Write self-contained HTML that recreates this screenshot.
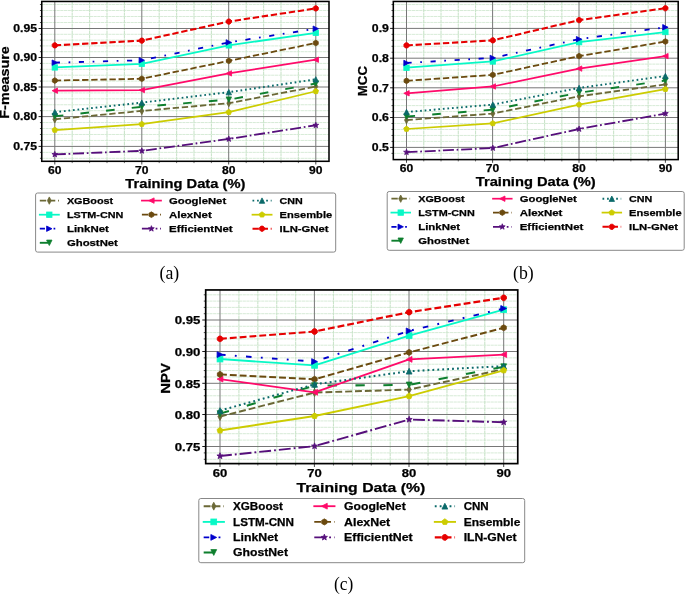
<!DOCTYPE html>
<html><head><meta charset="utf-8"><style>
html,body{margin:0;padding:0;background:#fff;}
svg{display:block;will-change:transform;}
svg text{font-family:"Liberation Sans",sans-serif;font-weight:bold;}
</style></head><body>
<svg width="685" height="594" viewBox="0 0 685 594">
<rect width="685" height="594" fill="#fff"/>
<rect x="41.75" y="1.45" width="287.25" height="159.85000000000002" fill="#fff"/>
<line x1="41.75" x2="329.0" y1="22.50" y2="22.50" stroke="#cae4ca" stroke-width="0.75" stroke-dasharray="3.2,0.5"/>
<line x1="41.75" x2="329.0" y1="16.50" y2="16.50" stroke="#cae4ca" stroke-width="0.75" stroke-dasharray="3.2,0.5"/>
<line x1="41.75" x2="329.0" y1="10.50" y2="10.50" stroke="#cae4ca" stroke-width="0.75" stroke-dasharray="3.2,0.5"/>
<line x1="41.75" x2="329.0" y1="4.50" y2="4.50" stroke="#cae4ca" stroke-width="0.75" stroke-dasharray="3.2,0.5"/>
<line x1="41.75" x2="329.0" y1="34.30" y2="34.30" stroke="#cae4ca" stroke-width="0.75" stroke-dasharray="3.2,0.5"/>
<line x1="41.75" x2="329.0" y1="40.10" y2="40.10" stroke="#cae4ca" stroke-width="0.75" stroke-dasharray="3.2,0.5"/>
<line x1="41.75" x2="329.0" y1="45.90" y2="45.90" stroke="#cae4ca" stroke-width="0.75" stroke-dasharray="3.2,0.5"/>
<line x1="41.75" x2="329.0" y1="51.70" y2="51.70" stroke="#cae4ca" stroke-width="0.75" stroke-dasharray="3.2,0.5"/>
<line x1="41.75" x2="329.0" y1="63.40" y2="63.40" stroke="#cae4ca" stroke-width="0.75" stroke-dasharray="3.2,0.5"/>
<line x1="41.75" x2="329.0" y1="69.30" y2="69.30" stroke="#cae4ca" stroke-width="0.75" stroke-dasharray="3.2,0.5"/>
<line x1="41.75" x2="329.0" y1="75.20" y2="75.20" stroke="#cae4ca" stroke-width="0.75" stroke-dasharray="3.2,0.5"/>
<line x1="41.75" x2="329.0" y1="81.10" y2="81.10" stroke="#cae4ca" stroke-width="0.75" stroke-dasharray="3.2,0.5"/>
<line x1="41.75" x2="329.0" y1="92.92" y2="92.92" stroke="#cae4ca" stroke-width="0.75" stroke-dasharray="3.2,0.5"/>
<line x1="41.75" x2="329.0" y1="98.84" y2="98.84" stroke="#cae4ca" stroke-width="0.75" stroke-dasharray="3.2,0.5"/>
<line x1="41.75" x2="329.0" y1="104.76" y2="104.76" stroke="#cae4ca" stroke-width="0.75" stroke-dasharray="3.2,0.5"/>
<line x1="41.75" x2="329.0" y1="110.68" y2="110.68" stroke="#cae4ca" stroke-width="0.75" stroke-dasharray="3.2,0.5"/>
<line x1="41.75" x2="329.0" y1="122.56" y2="122.56" stroke="#cae4ca" stroke-width="0.75" stroke-dasharray="3.2,0.5"/>
<line x1="41.75" x2="329.0" y1="128.52" y2="128.52" stroke="#cae4ca" stroke-width="0.75" stroke-dasharray="3.2,0.5"/>
<line x1="41.75" x2="329.0" y1="134.48" y2="134.48" stroke="#cae4ca" stroke-width="0.75" stroke-dasharray="3.2,0.5"/>
<line x1="41.75" x2="329.0" y1="140.44" y2="140.44" stroke="#cae4ca" stroke-width="0.75" stroke-dasharray="3.2,0.5"/>
<line x1="41.75" x2="329.0" y1="152.36" y2="152.36" stroke="#cae4ca" stroke-width="0.75" stroke-dasharray="3.2,0.5"/>
<line x1="41.75" x2="329.0" y1="158.32" y2="158.32" stroke="#cae4ca" stroke-width="0.75" stroke-dasharray="3.2,0.5"/>
<line x1="72.20" x2="72.20" y1="1.45" y2="161.3" stroke="#cae4ca" stroke-width="1.1" stroke-dasharray="3.2,0.5"/>
<line x1="89.60" x2="89.60" y1="1.45" y2="161.3" stroke="#cae4ca" stroke-width="1.1" stroke-dasharray="3.2,0.5"/>
<line x1="107.00" x2="107.00" y1="1.45" y2="161.3" stroke="#cae4ca" stroke-width="1.1" stroke-dasharray="3.2,0.5"/>
<line x1="124.40" x2="124.40" y1="1.45" y2="161.3" stroke="#cae4ca" stroke-width="1.1" stroke-dasharray="3.2,0.5"/>
<line x1="159.20" x2="159.20" y1="1.45" y2="161.3" stroke="#cae4ca" stroke-width="1.1" stroke-dasharray="3.2,0.5"/>
<line x1="176.60" x2="176.60" y1="1.45" y2="161.3" stroke="#cae4ca" stroke-width="1.1" stroke-dasharray="3.2,0.5"/>
<line x1="194.00" x2="194.00" y1="1.45" y2="161.3" stroke="#cae4ca" stroke-width="1.1" stroke-dasharray="3.2,0.5"/>
<line x1="211.40" x2="211.40" y1="1.45" y2="161.3" stroke="#cae4ca" stroke-width="1.1" stroke-dasharray="3.2,0.5"/>
<line x1="246.20" x2="246.20" y1="1.45" y2="161.3" stroke="#cae4ca" stroke-width="1.1" stroke-dasharray="3.2,0.5"/>
<line x1="263.60" x2="263.60" y1="1.45" y2="161.3" stroke="#cae4ca" stroke-width="1.1" stroke-dasharray="3.2,0.5"/>
<line x1="281.00" x2="281.00" y1="1.45" y2="161.3" stroke="#cae4ca" stroke-width="1.1" stroke-dasharray="3.2,0.5"/>
<line x1="298.40" x2="298.40" y1="1.45" y2="161.3" stroke="#cae4ca" stroke-width="1.1" stroke-dasharray="3.2,0.5"/>
<line x1="41.75" x2="329.0" y1="28.50" y2="28.50" stroke="#777" stroke-width="1.0"/>
<line x1="41.75" x2="329.0" y1="57.50" y2="57.50" stroke="#777" stroke-width="1.0"/>
<line x1="41.75" x2="329.0" y1="87.00" y2="87.00" stroke="#777" stroke-width="1.0"/>
<line x1="41.75" x2="329.0" y1="116.60" y2="116.60" stroke="#777" stroke-width="1.0"/>
<line x1="41.75" x2="329.0" y1="146.40" y2="146.40" stroke="#777" stroke-width="1.0"/>
<line x1="54.80" x2="54.80" y1="1.45" y2="161.3" stroke="#777" stroke-width="1.0"/>
<line x1="141.80" x2="141.80" y1="1.45" y2="161.3" stroke="#777" stroke-width="1.0"/>
<line x1="228.70" x2="228.70" y1="1.45" y2="161.3" stroke="#777" stroke-width="1.0"/>
<line x1="315.80" x2="315.80" y1="1.45" y2="161.3" stroke="#777" stroke-width="1.0"/>
<polyline points="54.80,119.28 141.80,110.94 228.80,103.19 315.80,86.50" fill="none" stroke="#6b6836" stroke-width="1.80" stroke-dasharray="6.36,2.75" stroke-linejoin="round"/>
<polygon points="54.80,115.61 56.74,119.28 54.80,122.96 52.86,119.28" fill="#6b6836" stroke="#6b6836" stroke-width="0.8" stroke-linejoin="miter" stroke-miterlimit="4"/>
<polygon points="141.80,107.27 143.74,110.94 141.80,114.61 139.86,110.94" fill="#6b6836" stroke="#6b6836" stroke-width="0.8" stroke-linejoin="miter" stroke-miterlimit="4"/>
<polygon points="228.80,99.52 230.74,103.19 228.80,106.86 226.86,103.19" fill="#6b6836" stroke="#6b6836" stroke-width="0.8" stroke-linejoin="miter" stroke-miterlimit="4"/>
<polygon points="315.80,82.83 317.74,86.50 315.80,90.18 313.86,86.50" fill="#6b6836" stroke="#6b6836" stroke-width="0.8" stroke-linejoin="miter" stroke-miterlimit="4"/>
<polyline points="54.80,67.43 141.80,63.86 228.80,45.38 315.80,32.86" fill="none" stroke="#08f8c6" stroke-width="1.75" stroke-linejoin="round"/>
<rect x="52.10" y="64.73" width="5.40" height="5.40" fill="#08f8c6" stroke="#08f8c6" stroke-width="0.8"/>
<rect x="139.10" y="61.16" width="5.40" height="5.40" fill="#08f8c6" stroke="#08f8c6" stroke-width="0.8"/>
<rect x="226.10" y="42.68" width="5.40" height="5.40" fill="#08f8c6" stroke="#08f8c6" stroke-width="0.8"/>
<rect x="313.10" y="30.16" width="5.40" height="5.40" fill="#08f8c6" stroke="#08f8c6" stroke-width="0.8"/>
<polyline points="54.80,62.66 141.80,60.28 228.80,42.40 315.80,28.69" fill="none" stroke="#0000cc" stroke-width="1.80" stroke-dasharray="5.16,8.60,1.72,8.60" stroke-linejoin="round"/>
<polygon points="57.50,62.66 52.10,59.96 52.10,65.36" fill="#0000cc" stroke="#0000cc" stroke-width="0.8" stroke-linejoin="miter" stroke-miterlimit="4"/>
<polygon points="144.50,60.28 139.10,57.58 139.10,62.98" fill="#0000cc" stroke="#0000cc" stroke-width="0.8" stroke-linejoin="miter" stroke-miterlimit="4"/>
<polygon points="231.50,42.40 226.10,39.70 226.10,45.10" fill="#0000cc" stroke="#0000cc" stroke-width="0.8" stroke-linejoin="miter" stroke-miterlimit="4"/>
<polygon points="318.50,28.69 313.10,25.99 313.10,31.39" fill="#0000cc" stroke="#0000cc" stroke-width="0.8" stroke-linejoin="miter" stroke-miterlimit="4"/>
<polyline points="54.80,116.30 141.80,106.77 228.80,99.62 315.80,83.52" fill="none" stroke="#0e7f2e" stroke-width="1.90" stroke-dasharray="8.60,17.20" stroke-linejoin="round"/>
<polygon points="54.80,119.00 52.10,113.60 57.50,113.60" fill="#0e7f2e" stroke="#0e7f2e" stroke-width="0.8" stroke-linejoin="miter" stroke-miterlimit="4"/>
<polygon points="141.80,109.47 139.10,104.07 144.50,104.07" fill="#0e7f2e" stroke="#0e7f2e" stroke-width="0.8" stroke-linejoin="miter" stroke-miterlimit="4"/>
<polygon points="228.80,102.32 226.10,96.92 231.50,96.92" fill="#0e7f2e" stroke="#0e7f2e" stroke-width="0.8" stroke-linejoin="miter" stroke-miterlimit="4"/>
<polygon points="315.80,86.22 313.10,80.82 318.50,80.82" fill="#0e7f2e" stroke="#0e7f2e" stroke-width="0.8" stroke-linejoin="miter" stroke-miterlimit="4"/>
<polyline points="54.80,90.68 141.80,90.08 228.80,73.39 315.80,59.68" fill="none" stroke="#ff0a6a" stroke-width="1.70" stroke-linejoin="round"/>
<polygon points="52.10,90.68 57.50,87.98 57.50,93.38" fill="#ff0a6a" stroke="#ff0a6a" stroke-width="0.8" stroke-linejoin="miter" stroke-miterlimit="4"/>
<polygon points="139.10,90.08 144.50,87.38 144.50,92.78" fill="#ff0a6a" stroke="#ff0a6a" stroke-width="0.8" stroke-linejoin="miter" stroke-miterlimit="4"/>
<polygon points="226.10,73.39 231.50,70.69 231.50,76.09" fill="#ff0a6a" stroke="#ff0a6a" stroke-width="0.8" stroke-linejoin="miter" stroke-miterlimit="4"/>
<polygon points="313.10,59.68 318.50,56.98 318.50,62.38" fill="#ff0a6a" stroke="#ff0a6a" stroke-width="0.8" stroke-linejoin="miter" stroke-miterlimit="4"/>
<polyline points="54.80,80.54 141.80,78.76 228.80,60.88 315.80,43.00" fill="none" stroke="#6b4a0f" stroke-width="1.80" stroke-dasharray="6.36,2.75" stroke-linejoin="round"/>
<polygon points="54.80,77.71 57.26,79.13 57.26,81.96 54.80,83.38 52.34,81.96 52.34,79.13" fill="#6b4a0f" stroke="#6b4a0f" stroke-width="0.8" stroke-linejoin="miter" stroke-miterlimit="4"/>
<polygon points="141.80,75.92 144.26,77.34 144.26,80.17 141.80,81.59 139.34,80.17 139.34,77.34" fill="#6b4a0f" stroke="#6b4a0f" stroke-width="0.8" stroke-linejoin="miter" stroke-miterlimit="4"/>
<polygon points="228.80,58.04 231.26,59.46 231.26,62.29 228.80,63.71 226.34,62.29 226.34,59.46" fill="#6b4a0f" stroke="#6b4a0f" stroke-width="0.8" stroke-linejoin="miter" stroke-miterlimit="4"/>
<polygon points="315.80,40.16 318.26,41.58 318.26,44.41 315.80,45.83 313.34,44.41 313.34,41.58" fill="#6b4a0f" stroke="#6b4a0f" stroke-width="0.8" stroke-linejoin="miter" stroke-miterlimit="4"/>
<polyline points="54.80,154.45 141.80,150.87 228.80,138.95 315.80,125.24" fill="none" stroke="#560f7b" stroke-width="1.80" stroke-dasharray="11.01,2.75,1.72,2.75" stroke-linejoin="round"/>
<polygon points="54.80,151.42 55.55,153.42 57.68,153.51 56.01,154.84 56.58,156.89 54.80,155.72 53.02,156.89 53.59,154.84 51.92,153.51 54.05,153.42" fill="#560f7b" stroke="#560f7b" stroke-width="0.8" stroke-linejoin="miter" stroke-miterlimit="4"/>
<polygon points="141.80,147.85 142.55,149.85 144.68,149.94 143.01,151.26 143.58,153.32 141.80,152.14 140.02,153.32 140.59,151.26 138.92,149.94 141.05,149.85" fill="#560f7b" stroke="#560f7b" stroke-width="0.8" stroke-linejoin="miter" stroke-miterlimit="4"/>
<polygon points="228.80,135.93 229.55,137.93 231.68,138.02 230.01,139.34 230.58,141.40 228.80,140.22 227.02,141.40 227.59,139.34 225.92,138.02 228.05,137.93" fill="#560f7b" stroke="#560f7b" stroke-width="0.8" stroke-linejoin="miter" stroke-miterlimit="4"/>
<polygon points="315.80,122.22 316.55,124.22 318.68,124.31 317.01,125.64 317.58,127.69 315.80,126.51 314.02,127.69 314.59,125.64 312.92,124.31 315.05,124.22" fill="#560f7b" stroke="#560f7b" stroke-width="0.8" stroke-linejoin="miter" stroke-miterlimit="4"/>
<polyline points="54.80,112.13 141.80,102.60 228.80,92.17 315.80,79.35" fill="none" stroke="#0b6a6a" stroke-width="1.90" stroke-dasharray="1.72,2.84" stroke-linejoin="round"/>
<polygon points="54.80,109.43 52.10,114.83 57.50,114.83" fill="#0b6a6a" stroke="#0b6a6a" stroke-width="0.8" stroke-linejoin="miter" stroke-miterlimit="4"/>
<polygon points="141.80,99.90 139.10,105.30 144.50,105.30" fill="#0b6a6a" stroke="#0b6a6a" stroke-width="0.8" stroke-linejoin="miter" stroke-miterlimit="4"/>
<polygon points="228.80,89.47 226.10,94.87 231.50,94.87" fill="#0b6a6a" stroke="#0b6a6a" stroke-width="0.8" stroke-linejoin="miter" stroke-miterlimit="4"/>
<polygon points="315.80,76.65 313.10,82.05 318.50,82.05" fill="#0b6a6a" stroke="#0b6a6a" stroke-width="0.8" stroke-linejoin="miter" stroke-miterlimit="4"/>
<polyline points="54.80,130.01 141.80,124.05 228.80,112.13 315.80,91.27" fill="none" stroke="#cccc00" stroke-width="1.75" stroke-linejoin="round"/>
<polygon points="54.80,127.10 57.57,129.11 56.51,132.37 53.09,132.37 52.03,129.11" fill="#cccc00" stroke="#cccc00" stroke-width="0.8" stroke-linejoin="miter" stroke-miterlimit="4"/>
<polygon points="141.80,121.14 144.57,123.15 143.51,126.41 140.09,126.41 139.03,123.15" fill="#cccc00" stroke="#cccc00" stroke-width="0.8" stroke-linejoin="miter" stroke-miterlimit="4"/>
<polygon points="228.80,109.22 231.57,111.23 230.51,114.49 227.09,114.49 226.03,111.23" fill="#cccc00" stroke="#cccc00" stroke-width="0.8" stroke-linejoin="miter" stroke-miterlimit="4"/>
<polygon points="315.80,88.36 318.57,90.37 317.51,93.63 314.09,93.63 313.03,90.37" fill="#cccc00" stroke="#cccc00" stroke-width="0.8" stroke-linejoin="miter" stroke-miterlimit="4"/>
<polyline points="54.80,45.38 141.80,40.61 228.80,21.54 315.80,8.43" fill="none" stroke="#e60000" stroke-width="2.05" stroke-dasharray="6.36,2.75" stroke-linejoin="round"/>
<polygon points="57.39,46.45 55.87,47.97 53.73,47.97 52.21,46.45 52.21,44.31 53.73,42.79 55.87,42.79 57.39,44.31" fill="#e60000" stroke="#e60000" stroke-width="0.8" stroke-linejoin="miter" stroke-miterlimit="4"/>
<polygon points="144.39,41.69 142.87,43.21 140.73,43.21 139.21,41.69 139.21,39.54 140.73,38.02 142.87,38.02 144.39,39.54" fill="#e60000" stroke="#e60000" stroke-width="0.8" stroke-linejoin="miter" stroke-miterlimit="4"/>
<polygon points="231.39,22.61 229.87,24.13 227.73,24.13 226.21,22.61 226.21,20.47 227.73,18.95 229.87,18.95 231.39,20.47" fill="#e60000" stroke="#e60000" stroke-width="0.8" stroke-linejoin="miter" stroke-miterlimit="4"/>
<polygon points="318.39,9.50 316.87,11.02 314.73,11.02 313.21,9.50 313.21,7.35 314.73,5.83 316.87,5.83 318.39,7.35" fill="#e60000" stroke="#e60000" stroke-width="0.8" stroke-linejoin="miter" stroke-miterlimit="4"/>
<line x1="38.55" x2="41.75" y1="28.50" y2="28.50" stroke="#000" stroke-width="0.9"/>
<text x="37.10" y="32.00" font-size="10.50" text-anchor="end" textLength="23.81" lengthAdjust="spacingAndGlyphs" fill="#000" stroke="#000" stroke-width="0.25">0.95</text>
<line x1="38.55" x2="41.75" y1="57.50" y2="57.50" stroke="#000" stroke-width="0.9"/>
<text x="37.10" y="61.00" font-size="10.50" text-anchor="end" textLength="23.81" lengthAdjust="spacingAndGlyphs" fill="#000" stroke="#000" stroke-width="0.25">0.90</text>
<line x1="38.55" x2="41.75" y1="87.00" y2="87.00" stroke="#000" stroke-width="0.9"/>
<text x="37.10" y="90.50" font-size="10.50" text-anchor="end" textLength="23.81" lengthAdjust="spacingAndGlyphs" fill="#000" stroke="#000" stroke-width="0.25">0.85</text>
<line x1="38.55" x2="41.75" y1="116.60" y2="116.60" stroke="#000" stroke-width="0.9"/>
<text x="37.10" y="120.10" font-size="10.50" text-anchor="end" textLength="23.81" lengthAdjust="spacingAndGlyphs" fill="#000" stroke="#000" stroke-width="0.25">0.80</text>
<line x1="38.55" x2="41.75" y1="146.40" y2="146.40" stroke="#000" stroke-width="0.9"/>
<text x="37.10" y="149.90" font-size="10.50" text-anchor="end" textLength="23.81" lengthAdjust="spacingAndGlyphs" fill="#000" stroke="#000" stroke-width="0.25">0.75</text>
<line x1="39.95" x2="41.75" y1="22.50" y2="22.50" stroke="#000" stroke-width="0.7"/>
<line x1="39.95" x2="41.75" y1="16.50" y2="16.50" stroke="#000" stroke-width="0.7"/>
<line x1="39.95" x2="41.75" y1="10.50" y2="10.50" stroke="#000" stroke-width="0.7"/>
<line x1="39.95" x2="41.75" y1="4.50" y2="4.50" stroke="#000" stroke-width="0.7"/>
<line x1="39.95" x2="41.75" y1="34.30" y2="34.30" stroke="#000" stroke-width="0.7"/>
<line x1="39.95" x2="41.75" y1="40.10" y2="40.10" stroke="#000" stroke-width="0.7"/>
<line x1="39.95" x2="41.75" y1="45.90" y2="45.90" stroke="#000" stroke-width="0.7"/>
<line x1="39.95" x2="41.75" y1="51.70" y2="51.70" stroke="#000" stroke-width="0.7"/>
<line x1="39.95" x2="41.75" y1="63.40" y2="63.40" stroke="#000" stroke-width="0.7"/>
<line x1="39.95" x2="41.75" y1="69.30" y2="69.30" stroke="#000" stroke-width="0.7"/>
<line x1="39.95" x2="41.75" y1="75.20" y2="75.20" stroke="#000" stroke-width="0.7"/>
<line x1="39.95" x2="41.75" y1="81.10" y2="81.10" stroke="#000" stroke-width="0.7"/>
<line x1="39.95" x2="41.75" y1="92.92" y2="92.92" stroke="#000" stroke-width="0.7"/>
<line x1="39.95" x2="41.75" y1="98.84" y2="98.84" stroke="#000" stroke-width="0.7"/>
<line x1="39.95" x2="41.75" y1="104.76" y2="104.76" stroke="#000" stroke-width="0.7"/>
<line x1="39.95" x2="41.75" y1="110.68" y2="110.68" stroke="#000" stroke-width="0.7"/>
<line x1="39.95" x2="41.75" y1="122.56" y2="122.56" stroke="#000" stroke-width="0.7"/>
<line x1="39.95" x2="41.75" y1="128.52" y2="128.52" stroke="#000" stroke-width="0.7"/>
<line x1="39.95" x2="41.75" y1="134.48" y2="134.48" stroke="#000" stroke-width="0.7"/>
<line x1="39.95" x2="41.75" y1="140.44" y2="140.44" stroke="#000" stroke-width="0.7"/>
<line x1="39.95" x2="41.75" y1="152.36" y2="152.36" stroke="#000" stroke-width="0.7"/>
<line x1="39.95" x2="41.75" y1="158.32" y2="158.32" stroke="#000" stroke-width="0.7"/>
<line x1="54.80" x2="54.80" y1="161.3" y2="164.50" stroke="#333" stroke-width="0.9"/>
<text x="54.80" y="174.10" font-size="10.50" text-anchor="middle" textLength="13.44" lengthAdjust="spacingAndGlyphs" fill="#000" stroke="#000" stroke-width="0.25">60</text>
<line x1="141.80" x2="141.80" y1="161.3" y2="164.50" stroke="#333" stroke-width="0.9"/>
<text x="141.80" y="174.10" font-size="10.50" text-anchor="middle" textLength="13.44" lengthAdjust="spacingAndGlyphs" fill="#000" stroke="#000" stroke-width="0.25">70</text>
<line x1="228.70" x2="228.70" y1="161.3" y2="164.50" stroke="#333" stroke-width="0.9"/>
<text x="228.70" y="174.10" font-size="10.50" text-anchor="middle" textLength="13.44" lengthAdjust="spacingAndGlyphs" fill="#000" stroke="#000" stroke-width="0.25">80</text>
<line x1="315.80" x2="315.80" y1="161.3" y2="164.50" stroke="#333" stroke-width="0.9"/>
<text x="315.80" y="174.10" font-size="10.50" text-anchor="middle" textLength="13.44" lengthAdjust="spacingAndGlyphs" fill="#000" stroke="#000" stroke-width="0.25">90</text>
<line x1="72.20" x2="72.20" y1="161.3" y2="163.10" stroke="#333" stroke-width="0.7"/>
<line x1="89.60" x2="89.60" y1="161.3" y2="163.10" stroke="#333" stroke-width="0.7"/>
<line x1="107.00" x2="107.00" y1="161.3" y2="163.10" stroke="#333" stroke-width="0.7"/>
<line x1="124.40" x2="124.40" y1="161.3" y2="163.10" stroke="#333" stroke-width="0.7"/>
<line x1="159.20" x2="159.20" y1="161.3" y2="163.10" stroke="#333" stroke-width="0.7"/>
<line x1="176.60" x2="176.60" y1="161.3" y2="163.10" stroke="#333" stroke-width="0.7"/>
<line x1="194.00" x2="194.00" y1="161.3" y2="163.10" stroke="#333" stroke-width="0.7"/>
<line x1="211.40" x2="211.40" y1="161.3" y2="163.10" stroke="#333" stroke-width="0.7"/>
<line x1="246.20" x2="246.20" y1="161.3" y2="163.10" stroke="#333" stroke-width="0.7"/>
<line x1="263.60" x2="263.60" y1="161.3" y2="163.10" stroke="#333" stroke-width="0.7"/>
<line x1="281.00" x2="281.00" y1="161.3" y2="163.10" stroke="#333" stroke-width="0.7"/>
<line x1="298.40" x2="298.40" y1="161.3" y2="163.10" stroke="#333" stroke-width="0.7"/>
<rect x="41.75" y="1.45" width="287.25" height="159.85000000000002" fill="none" stroke="#000" stroke-width="1.55"/>
<text x="185.38" y="187.60" font-size="13.00" text-anchor="middle" textLength="119.99" lengthAdjust="spacingAndGlyphs" fill="#000" stroke="#000" stroke-width="0.25">Training Data (%)</text>
<text x="8.80" y="82.40" font-size="13.00" text-anchor="middle" textLength="72.48" lengthAdjust="spacingAndGlyphs" fill="#000" stroke="#000" stroke-width="0.25" transform="rotate(-90 8.80 82.40)">F-measure</text>
<rect x="35.6" y="193.0" width="300.09999999999997" height="59.099999999999994" rx="2" fill="#fff" stroke="#888" stroke-width="1"/>
<line x1="39.80" x2="58.90" y1="200.60" y2="200.60" stroke="#6b6836" stroke-width="1.80" stroke-dasharray="6.36,2.75"/>
<polygon points="49.30,196.93 51.24,200.60 49.30,204.27 47.36,200.60" fill="#6b6836" stroke="#6b6836" stroke-width="0.8" stroke-linejoin="miter" stroke-miterlimit="4"/>
<text x="66.90" y="203.50" font-size="9.90" text-anchor="start" textLength="46.33" lengthAdjust="spacingAndGlyphs" fill="#000" stroke="#000" stroke-width="0.25">XGBoost</text>
<line x1="39.80" x2="58.90" y1="214.70" y2="214.70" stroke="#08f8c6" stroke-width="1.75" stroke-linecap="square"/>
<rect x="46.60" y="212.00" width="5.40" height="5.40" fill="#08f8c6" stroke="#08f8c6" stroke-width="0.8"/>
<text x="66.90" y="217.60" font-size="9.90" text-anchor="start" textLength="56.52" lengthAdjust="spacingAndGlyphs" fill="#000" stroke="#000" stroke-width="0.25">LSTM-CNN</text>
<line x1="39.80" x2="58.90" y1="228.70" y2="228.70" stroke="#0000cc" stroke-width="1.80" stroke-dasharray="5.16,8.60,1.72,8.60"/>
<polygon points="52.00,228.70 46.60,226.00 46.60,231.40" fill="#0000cc" stroke="#0000cc" stroke-width="0.8" stroke-linejoin="miter" stroke-miterlimit="4"/>
<text x="66.90" y="231.60" font-size="9.90" text-anchor="start" textLength="41.98" lengthAdjust="spacingAndGlyphs" fill="#000" stroke="#000" stroke-width="0.25">LinkNet</text>
<line x1="39.80" x2="58.90" y1="242.80" y2="242.80" stroke="#0e7f2e" stroke-width="1.90" stroke-dasharray="8.60,17.20"/>
<polygon points="49.30,245.50 46.60,240.10 52.00,240.10" fill="#0e7f2e" stroke="#0e7f2e" stroke-width="0.8" stroke-linejoin="miter" stroke-miterlimit="4"/>
<text x="66.90" y="245.70" font-size="9.90" text-anchor="start" textLength="51.01" lengthAdjust="spacingAndGlyphs" fill="#000" stroke="#000" stroke-width="0.25">GhostNet</text>
<line x1="141.90" x2="161.00" y1="200.60" y2="200.60" stroke="#ff0a6a" stroke-width="1.70" stroke-linecap="square"/>
<polygon points="148.70,200.60 154.10,197.90 154.10,203.30" fill="#ff0a6a" stroke="#ff0a6a" stroke-width="0.8" stroke-linejoin="miter" stroke-miterlimit="4"/>
<text x="169.00" y="203.50" font-size="9.90" text-anchor="start" textLength="57.17" lengthAdjust="spacingAndGlyphs" fill="#000" stroke="#000" stroke-width="0.25">GoogleNet</text>
<line x1="141.90" x2="161.00" y1="214.70" y2="214.70" stroke="#6b4a0f" stroke-width="1.80" stroke-dasharray="6.36,2.75"/>
<polygon points="151.40,211.86 153.86,213.28 153.86,216.12 151.40,217.53 148.94,216.12 148.94,213.28" fill="#6b4a0f" stroke="#6b4a0f" stroke-width="0.8" stroke-linejoin="miter" stroke-miterlimit="4"/>
<text x="169.00" y="217.60" font-size="9.90" text-anchor="start" textLength="42.77" lengthAdjust="spacingAndGlyphs" fill="#000" stroke="#000" stroke-width="0.25">AlexNet</text>
<line x1="141.90" x2="161.00" y1="228.70" y2="228.70" stroke="#560f7b" stroke-width="1.80" stroke-dasharray="11.01,2.75,1.72,2.75"/>
<polygon points="151.40,225.68 152.15,227.67 154.28,227.77 152.61,229.09 153.18,231.15 151.40,229.97 149.62,231.15 150.19,229.09 148.52,227.77 150.65,227.67" fill="#560f7b" stroke="#560f7b" stroke-width="0.8" stroke-linejoin="miter" stroke-miterlimit="4"/>
<text x="169.00" y="231.60" font-size="9.90" text-anchor="start" textLength="63.64" lengthAdjust="spacingAndGlyphs" fill="#000" stroke="#000" stroke-width="0.25">EfficientNet</text>
<line x1="252.50" x2="271.60" y1="200.60" y2="200.60" stroke="#0b6a6a" stroke-width="1.90" stroke-dasharray="1.72,2.84"/>
<polygon points="262.00,197.90 259.30,203.30 264.70,203.30" fill="#0b6a6a" stroke="#0b6a6a" stroke-width="0.8" stroke-linejoin="miter" stroke-miterlimit="4"/>
<text x="279.60" y="203.50" font-size="9.90" text-anchor="start" textLength="23.23" lengthAdjust="spacingAndGlyphs" fill="#000" stroke="#000" stroke-width="0.25">CNN</text>
<line x1="252.50" x2="271.60" y1="214.70" y2="214.70" stroke="#cccc00" stroke-width="1.75" stroke-linecap="square"/>
<polygon points="262.00,211.78 264.77,213.80 263.71,217.06 260.29,217.06 259.23,213.80" fill="#cccc00" stroke="#cccc00" stroke-width="0.8" stroke-linejoin="miter" stroke-miterlimit="4"/>
<text x="279.60" y="217.60" font-size="9.90" text-anchor="start" textLength="52.57" lengthAdjust="spacingAndGlyphs" fill="#000" stroke="#000" stroke-width="0.25">Ensemble</text>
<line x1="252.50" x2="271.60" y1="228.70" y2="228.70" stroke="#e60000" stroke-width="2.05" stroke-dasharray="6.36,2.75"/>
<polygon points="264.59,229.77 263.07,231.29 260.93,231.29 259.41,229.77 259.41,227.63 260.93,226.11 263.07,226.11 264.59,227.63" fill="#e60000" stroke="#e60000" stroke-width="0.8" stroke-linejoin="miter" stroke-miterlimit="4"/>
<text x="279.60" y="231.60" font-size="9.90" text-anchor="start" textLength="48.97" lengthAdjust="spacingAndGlyphs" fill="#000" stroke="#000" stroke-width="0.25">ILN-GNet</text>
<rect x="393.3" y="1.45" width="284.90000000000003" height="158.15" fill="#fff"/>
<line x1="393.3" x2="678.2" y1="22.44" y2="22.44" stroke="#cae4ca" stroke-width="0.75" stroke-dasharray="3.2,0.5"/>
<line x1="393.3" x2="678.2" y1="16.48" y2="16.48" stroke="#cae4ca" stroke-width="0.75" stroke-dasharray="3.2,0.5"/>
<line x1="393.3" x2="678.2" y1="10.52" y2="10.52" stroke="#cae4ca" stroke-width="0.75" stroke-dasharray="3.2,0.5"/>
<line x1="393.3" x2="678.2" y1="4.56" y2="4.56" stroke="#cae4ca" stroke-width="0.75" stroke-dasharray="3.2,0.5"/>
<line x1="393.3" x2="678.2" y1="34.36" y2="34.36" stroke="#cae4ca" stroke-width="0.75" stroke-dasharray="3.2,0.5"/>
<line x1="393.3" x2="678.2" y1="40.32" y2="40.32" stroke="#cae4ca" stroke-width="0.75" stroke-dasharray="3.2,0.5"/>
<line x1="393.3" x2="678.2" y1="46.28" y2="46.28" stroke="#cae4ca" stroke-width="0.75" stroke-dasharray="3.2,0.5"/>
<line x1="393.3" x2="678.2" y1="52.24" y2="52.24" stroke="#cae4ca" stroke-width="0.75" stroke-dasharray="3.2,0.5"/>
<line x1="393.3" x2="678.2" y1="64.12" y2="64.12" stroke="#cae4ca" stroke-width="0.75" stroke-dasharray="3.2,0.5"/>
<line x1="393.3" x2="678.2" y1="70.04" y2="70.04" stroke="#cae4ca" stroke-width="0.75" stroke-dasharray="3.2,0.5"/>
<line x1="393.3" x2="678.2" y1="75.96" y2="75.96" stroke="#cae4ca" stroke-width="0.75" stroke-dasharray="3.2,0.5"/>
<line x1="393.3" x2="678.2" y1="81.88" y2="81.88" stroke="#cae4ca" stroke-width="0.75" stroke-dasharray="3.2,0.5"/>
<line x1="393.3" x2="678.2" y1="93.74" y2="93.74" stroke="#cae4ca" stroke-width="0.75" stroke-dasharray="3.2,0.5"/>
<line x1="393.3" x2="678.2" y1="99.68" y2="99.68" stroke="#cae4ca" stroke-width="0.75" stroke-dasharray="3.2,0.5"/>
<line x1="393.3" x2="678.2" y1="105.62" y2="105.62" stroke="#cae4ca" stroke-width="0.75" stroke-dasharray="3.2,0.5"/>
<line x1="393.3" x2="678.2" y1="111.56" y2="111.56" stroke="#cae4ca" stroke-width="0.75" stroke-dasharray="3.2,0.5"/>
<line x1="393.3" x2="678.2" y1="123.48" y2="123.48" stroke="#cae4ca" stroke-width="0.75" stroke-dasharray="3.2,0.5"/>
<line x1="393.3" x2="678.2" y1="129.46" y2="129.46" stroke="#cae4ca" stroke-width="0.75" stroke-dasharray="3.2,0.5"/>
<line x1="393.3" x2="678.2" y1="135.44" y2="135.44" stroke="#cae4ca" stroke-width="0.75" stroke-dasharray="3.2,0.5"/>
<line x1="393.3" x2="678.2" y1="141.42" y2="141.42" stroke="#cae4ca" stroke-width="0.75" stroke-dasharray="3.2,0.5"/>
<line x1="393.3" x2="678.2" y1="153.38" y2="153.38" stroke="#cae4ca" stroke-width="0.75" stroke-dasharray="3.2,0.5"/>
<line x1="423.76" x2="423.76" y1="1.45" y2="159.6" stroke="#cae4ca" stroke-width="1.1" stroke-dasharray="3.2,0.5"/>
<line x1="441.02" x2="441.02" y1="1.45" y2="159.6" stroke="#cae4ca" stroke-width="1.1" stroke-dasharray="3.2,0.5"/>
<line x1="458.28" x2="458.28" y1="1.45" y2="159.6" stroke="#cae4ca" stroke-width="1.1" stroke-dasharray="3.2,0.5"/>
<line x1="475.54" x2="475.54" y1="1.45" y2="159.6" stroke="#cae4ca" stroke-width="1.1" stroke-dasharray="3.2,0.5"/>
<line x1="510.06" x2="510.06" y1="1.45" y2="159.6" stroke="#cae4ca" stroke-width="1.1" stroke-dasharray="3.2,0.5"/>
<line x1="527.32" x2="527.32" y1="1.45" y2="159.6" stroke="#cae4ca" stroke-width="1.1" stroke-dasharray="3.2,0.5"/>
<line x1="544.58" x2="544.58" y1="1.45" y2="159.6" stroke="#cae4ca" stroke-width="1.1" stroke-dasharray="3.2,0.5"/>
<line x1="561.84" x2="561.84" y1="1.45" y2="159.6" stroke="#cae4ca" stroke-width="1.1" stroke-dasharray="3.2,0.5"/>
<line x1="596.36" x2="596.36" y1="1.45" y2="159.6" stroke="#cae4ca" stroke-width="1.1" stroke-dasharray="3.2,0.5"/>
<line x1="613.62" x2="613.62" y1="1.45" y2="159.6" stroke="#cae4ca" stroke-width="1.1" stroke-dasharray="3.2,0.5"/>
<line x1="630.88" x2="630.88" y1="1.45" y2="159.6" stroke="#cae4ca" stroke-width="1.1" stroke-dasharray="3.2,0.5"/>
<line x1="648.14" x2="648.14" y1="1.45" y2="159.6" stroke="#cae4ca" stroke-width="1.1" stroke-dasharray="3.2,0.5"/>
<line x1="393.3" x2="678.2" y1="28.40" y2="28.40" stroke="#777" stroke-width="1.0"/>
<line x1="393.3" x2="678.2" y1="58.20" y2="58.20" stroke="#777" stroke-width="1.0"/>
<line x1="393.3" x2="678.2" y1="87.80" y2="87.80" stroke="#777" stroke-width="1.0"/>
<line x1="393.3" x2="678.2" y1="117.50" y2="117.50" stroke="#777" stroke-width="1.0"/>
<line x1="393.3" x2="678.2" y1="147.40" y2="147.40" stroke="#777" stroke-width="1.0"/>
<line x1="406.50" x2="406.50" y1="1.45" y2="159.6" stroke="#777" stroke-width="1.0"/>
<line x1="492.60" x2="492.60" y1="1.45" y2="159.6" stroke="#777" stroke-width="1.0"/>
<line x1="579.00" x2="579.00" y1="1.45" y2="159.6" stroke="#777" stroke-width="1.0"/>
<line x1="665.40" x2="665.40" y1="1.45" y2="159.6" stroke="#777" stroke-width="1.0"/>
<polyline points="406.50,120.08 492.80,113.54 579.10,96.28 665.40,84.38" fill="none" stroke="#6b6836" stroke-width="1.80" stroke-dasharray="6.36,2.75" stroke-linejoin="round"/>
<polygon points="406.50,116.41 408.44,120.08 406.50,123.75 404.56,120.08" fill="#6b6836" stroke="#6b6836" stroke-width="0.8" stroke-linejoin="miter" stroke-miterlimit="4"/>
<polygon points="492.80,109.86 494.74,113.54 492.80,117.21 490.86,113.54" fill="#6b6836" stroke="#6b6836" stroke-width="0.8" stroke-linejoin="miter" stroke-miterlimit="4"/>
<polygon points="579.10,92.61 581.04,96.28 579.10,99.95 577.16,96.28" fill="#6b6836" stroke="#6b6836" stroke-width="0.8" stroke-linejoin="miter" stroke-miterlimit="4"/>
<polygon points="665.40,80.71 667.34,84.38 665.40,88.05 663.46,84.38" fill="#6b6836" stroke="#6b6836" stroke-width="0.8" stroke-linejoin="miter" stroke-miterlimit="4"/>
<polyline points="406.50,67.72 492.80,61.47 579.10,42.14 665.40,32.02" fill="none" stroke="#08f8c6" stroke-width="1.75" stroke-linejoin="round"/>
<rect x="403.80" y="65.02" width="5.40" height="5.40" fill="#08f8c6" stroke="#08f8c6" stroke-width="0.8"/>
<rect x="490.10" y="58.77" width="5.40" height="5.40" fill="#08f8c6" stroke="#08f8c6" stroke-width="0.8"/>
<rect x="576.40" y="39.44" width="5.40" height="5.40" fill="#08f8c6" stroke="#08f8c6" stroke-width="0.8"/>
<rect x="662.70" y="29.32" width="5.40" height="5.40" fill="#08f8c6" stroke="#08f8c6" stroke-width="0.8"/>
<polyline points="406.50,62.96 492.80,57.90 579.10,39.16 665.40,27.26" fill="none" stroke="#0000cc" stroke-width="1.80" stroke-dasharray="5.16,8.60,1.72,8.60" stroke-linejoin="round"/>
<polygon points="409.20,62.96 403.80,60.26 403.80,65.66" fill="#0000cc" stroke="#0000cc" stroke-width="0.8" stroke-linejoin="miter" stroke-miterlimit="4"/>
<polygon points="495.50,57.90 490.10,55.20 490.10,60.60" fill="#0000cc" stroke="#0000cc" stroke-width="0.8" stroke-linejoin="miter" stroke-miterlimit="4"/>
<polygon points="581.80,39.16 576.40,36.46 576.40,41.86" fill="#0000cc" stroke="#0000cc" stroke-width="0.8" stroke-linejoin="miter" stroke-miterlimit="4"/>
<polygon points="668.10,27.26 662.70,24.56 662.70,29.96" fill="#0000cc" stroke="#0000cc" stroke-width="0.8" stroke-linejoin="miter" stroke-miterlimit="4"/>
<polyline points="406.50,116.51 492.80,109.67 579.10,92.71 665.40,80.51" fill="none" stroke="#0e7f2e" stroke-width="1.90" stroke-dasharray="8.60,17.20" stroke-linejoin="round"/>
<polygon points="406.50,119.21 403.80,113.81 409.20,113.81" fill="#0e7f2e" stroke="#0e7f2e" stroke-width="0.8" stroke-linejoin="miter" stroke-miterlimit="4"/>
<polygon points="492.80,112.37 490.10,106.97 495.50,106.97" fill="#0e7f2e" stroke="#0e7f2e" stroke-width="0.8" stroke-linejoin="miter" stroke-miterlimit="4"/>
<polygon points="579.10,95.41 576.40,90.01 581.80,90.01" fill="#0e7f2e" stroke="#0e7f2e" stroke-width="0.8" stroke-linejoin="miter" stroke-miterlimit="4"/>
<polygon points="665.40,83.21 662.70,77.81 668.10,77.81" fill="#0e7f2e" stroke="#0e7f2e" stroke-width="0.8" stroke-linejoin="miter" stroke-miterlimit="4"/>
<polyline points="406.50,93.31 492.80,86.46 579.10,68.61 665.40,56.12" fill="none" stroke="#ff0a6a" stroke-width="1.70" stroke-linejoin="round"/>
<polygon points="403.80,93.31 409.20,90.61 409.20,96.01" fill="#ff0a6a" stroke="#ff0a6a" stroke-width="0.8" stroke-linejoin="miter" stroke-miterlimit="4"/>
<polygon points="490.10,86.46 495.50,83.76 495.50,89.16" fill="#ff0a6a" stroke="#ff0a6a" stroke-width="0.8" stroke-linejoin="miter" stroke-miterlimit="4"/>
<polygon points="576.40,68.61 581.80,65.91 581.80,71.31" fill="#ff0a6a" stroke="#ff0a6a" stroke-width="0.8" stroke-linejoin="miter" stroke-miterlimit="4"/>
<polygon points="662.70,56.12 668.10,53.42 668.10,58.82" fill="#ff0a6a" stroke="#ff0a6a" stroke-width="0.8" stroke-linejoin="miter" stroke-miterlimit="4"/>
<polyline points="406.50,80.81 492.80,74.86 579.10,56.12 665.40,41.54" fill="none" stroke="#6b4a0f" stroke-width="1.80" stroke-dasharray="6.36,2.75" stroke-linejoin="round"/>
<polygon points="406.50,77.98 408.96,79.39 408.96,82.23 406.50,83.65 404.04,82.23 404.04,79.39" fill="#6b4a0f" stroke="#6b4a0f" stroke-width="0.8" stroke-linejoin="miter" stroke-miterlimit="4"/>
<polygon points="492.80,72.03 495.26,73.44 495.26,76.28 492.80,77.70 490.34,76.28 490.34,73.44" fill="#6b4a0f" stroke="#6b4a0f" stroke-width="0.8" stroke-linejoin="miter" stroke-miterlimit="4"/>
<polygon points="579.10,53.28 581.56,54.70 581.56,57.53 579.10,58.95 576.64,57.53 576.64,54.70" fill="#6b4a0f" stroke="#6b4a0f" stroke-width="0.8" stroke-linejoin="miter" stroke-miterlimit="4"/>
<polygon points="665.40,38.71 667.86,40.12 667.86,42.96 665.40,44.38 662.94,42.96 662.94,40.12" fill="#6b4a0f" stroke="#6b4a0f" stroke-width="0.8" stroke-linejoin="miter" stroke-miterlimit="4"/>
<polyline points="406.50,152.21 492.80,148.05 579.10,129.00 665.40,113.54" fill="none" stroke="#560f7b" stroke-width="1.80" stroke-dasharray="11.01,2.75,1.72,2.75" stroke-linejoin="round"/>
<polygon points="406.50,149.19 407.25,151.18 409.38,151.28 407.71,152.60 408.28,154.66 406.50,153.48 404.72,154.66 405.29,152.60 403.62,151.28 405.75,151.18" fill="#560f7b" stroke="#560f7b" stroke-width="0.8" stroke-linejoin="miter" stroke-miterlimit="4"/>
<polygon points="492.80,145.02 493.55,147.02 495.68,147.11 494.01,148.44 494.58,150.49 492.80,149.31 491.02,150.49 491.59,148.44 489.92,147.11 492.05,147.02" fill="#560f7b" stroke="#560f7b" stroke-width="0.8" stroke-linejoin="miter" stroke-miterlimit="4"/>
<polygon points="579.10,125.98 579.85,127.98 581.98,128.07 580.31,129.40 580.88,131.45 579.10,130.27 577.32,131.45 577.89,129.40 576.22,128.07 578.35,127.98" fill="#560f7b" stroke="#560f7b" stroke-width="0.8" stroke-linejoin="miter" stroke-miterlimit="4"/>
<polygon points="665.40,110.51 666.15,112.51 668.28,112.60 666.61,113.93 667.18,115.98 665.40,114.80 663.62,115.98 664.19,113.93 662.52,112.60 664.65,112.51" fill="#560f7b" stroke="#560f7b" stroke-width="0.8" stroke-linejoin="miter" stroke-miterlimit="4"/>
<polyline points="406.50,112.05 492.80,104.61 579.10,87.95 665.40,76.05" fill="none" stroke="#0b6a6a" stroke-width="1.90" stroke-dasharray="1.72,2.84" stroke-linejoin="round"/>
<polygon points="406.50,109.35 403.80,114.75 409.20,114.75" fill="#0b6a6a" stroke="#0b6a6a" stroke-width="0.8" stroke-linejoin="miter" stroke-miterlimit="4"/>
<polygon points="492.80,101.91 490.10,107.31 495.50,107.31" fill="#0b6a6a" stroke="#0b6a6a" stroke-width="0.8" stroke-linejoin="miter" stroke-miterlimit="4"/>
<polygon points="579.10,85.25 576.40,90.65 581.80,90.65" fill="#0b6a6a" stroke="#0b6a6a" stroke-width="0.8" stroke-linejoin="miter" stroke-miterlimit="4"/>
<polygon points="665.40,73.35 662.70,78.75 668.10,78.75" fill="#0b6a6a" stroke="#0b6a6a" stroke-width="0.8" stroke-linejoin="miter" stroke-miterlimit="4"/>
<polyline points="406.50,129.00 492.80,123.35 579.10,104.61 665.40,89.14" fill="none" stroke="#cccc00" stroke-width="1.75" stroke-linejoin="round"/>
<polygon points="406.50,126.09 409.27,128.10 408.21,131.36 404.79,131.36 403.73,128.10" fill="#cccc00" stroke="#cccc00" stroke-width="0.8" stroke-linejoin="miter" stroke-miterlimit="4"/>
<polygon points="492.80,120.44 495.57,122.45 494.51,125.71 491.09,125.71 490.03,122.45" fill="#cccc00" stroke="#cccc00" stroke-width="0.8" stroke-linejoin="miter" stroke-miterlimit="4"/>
<polygon points="579.10,101.69 581.87,103.71 580.81,106.97 577.39,106.97 576.33,103.71" fill="#cccc00" stroke="#cccc00" stroke-width="0.8" stroke-linejoin="miter" stroke-miterlimit="4"/>
<polygon points="665.40,86.22 668.17,88.24 667.11,91.50 663.69,91.50 662.63,88.24" fill="#cccc00" stroke="#cccc00" stroke-width="0.8" stroke-linejoin="miter" stroke-miterlimit="4"/>
<polyline points="406.50,45.41 492.80,40.35 579.10,20.12 665.40,8.22" fill="none" stroke="#e60000" stroke-width="2.05" stroke-dasharray="6.36,2.75" stroke-linejoin="round"/>
<polygon points="409.09,46.48 407.57,48.00 405.43,48.00 403.91,46.48 403.91,44.33 405.43,42.81 407.57,42.81 409.09,44.33" fill="#e60000" stroke="#e60000" stroke-width="0.8" stroke-linejoin="miter" stroke-miterlimit="4"/>
<polygon points="495.39,41.42 493.87,42.94 491.73,42.94 490.21,41.42 490.21,39.28 491.73,37.76 493.87,37.76 495.39,39.28" fill="#e60000" stroke="#e60000" stroke-width="0.8" stroke-linejoin="miter" stroke-miterlimit="4"/>
<polygon points="581.69,21.19 580.17,22.71 578.03,22.71 576.51,21.19 576.51,19.05 578.03,17.53 580.17,17.53 581.69,19.05" fill="#e60000" stroke="#e60000" stroke-width="0.8" stroke-linejoin="miter" stroke-miterlimit="4"/>
<polygon points="667.99,9.29 666.47,10.81 664.33,10.81 662.81,9.29 662.81,7.15 664.33,5.63 666.47,5.63 667.99,7.15" fill="#e60000" stroke="#e60000" stroke-width="0.8" stroke-linejoin="miter" stroke-miterlimit="4"/>
<line x1="390.10" x2="393.3" y1="28.40" y2="28.40" stroke="#000" stroke-width="0.9"/>
<text x="388.90" y="32.10" font-size="10.50" text-anchor="end" textLength="17.09" lengthAdjust="spacingAndGlyphs" fill="#000" stroke="#000" stroke-width="0.25">0.9</text>
<line x1="390.10" x2="393.3" y1="58.20" y2="58.20" stroke="#000" stroke-width="0.9"/>
<text x="388.90" y="61.90" font-size="10.50" text-anchor="end" textLength="17.09" lengthAdjust="spacingAndGlyphs" fill="#000" stroke="#000" stroke-width="0.25">0.8</text>
<line x1="390.10" x2="393.3" y1="87.80" y2="87.80" stroke="#000" stroke-width="0.9"/>
<text x="388.90" y="91.50" font-size="10.50" text-anchor="end" textLength="17.09" lengthAdjust="spacingAndGlyphs" fill="#000" stroke="#000" stroke-width="0.25">0.7</text>
<line x1="390.10" x2="393.3" y1="117.50" y2="117.50" stroke="#000" stroke-width="0.9"/>
<text x="388.90" y="121.20" font-size="10.50" text-anchor="end" textLength="17.09" lengthAdjust="spacingAndGlyphs" fill="#000" stroke="#000" stroke-width="0.25">0.6</text>
<line x1="390.10" x2="393.3" y1="147.40" y2="147.40" stroke="#000" stroke-width="0.9"/>
<text x="388.90" y="151.10" font-size="10.50" text-anchor="end" textLength="17.09" lengthAdjust="spacingAndGlyphs" fill="#000" stroke="#000" stroke-width="0.25">0.5</text>
<line x1="391.50" x2="393.3" y1="22.44" y2="22.44" stroke="#000" stroke-width="0.7"/>
<line x1="391.50" x2="393.3" y1="16.48" y2="16.48" stroke="#000" stroke-width="0.7"/>
<line x1="391.50" x2="393.3" y1="10.52" y2="10.52" stroke="#000" stroke-width="0.7"/>
<line x1="391.50" x2="393.3" y1="4.56" y2="4.56" stroke="#000" stroke-width="0.7"/>
<line x1="391.50" x2="393.3" y1="34.36" y2="34.36" stroke="#000" stroke-width="0.7"/>
<line x1="391.50" x2="393.3" y1="40.32" y2="40.32" stroke="#000" stroke-width="0.7"/>
<line x1="391.50" x2="393.3" y1="46.28" y2="46.28" stroke="#000" stroke-width="0.7"/>
<line x1="391.50" x2="393.3" y1="52.24" y2="52.24" stroke="#000" stroke-width="0.7"/>
<line x1="391.50" x2="393.3" y1="64.12" y2="64.12" stroke="#000" stroke-width="0.7"/>
<line x1="391.50" x2="393.3" y1="70.04" y2="70.04" stroke="#000" stroke-width="0.7"/>
<line x1="391.50" x2="393.3" y1="75.96" y2="75.96" stroke="#000" stroke-width="0.7"/>
<line x1="391.50" x2="393.3" y1="81.88" y2="81.88" stroke="#000" stroke-width="0.7"/>
<line x1="391.50" x2="393.3" y1="93.74" y2="93.74" stroke="#000" stroke-width="0.7"/>
<line x1="391.50" x2="393.3" y1="99.68" y2="99.68" stroke="#000" stroke-width="0.7"/>
<line x1="391.50" x2="393.3" y1="105.62" y2="105.62" stroke="#000" stroke-width="0.7"/>
<line x1="391.50" x2="393.3" y1="111.56" y2="111.56" stroke="#000" stroke-width="0.7"/>
<line x1="391.50" x2="393.3" y1="123.48" y2="123.48" stroke="#000" stroke-width="0.7"/>
<line x1="391.50" x2="393.3" y1="129.46" y2="129.46" stroke="#000" stroke-width="0.7"/>
<line x1="391.50" x2="393.3" y1="135.44" y2="135.44" stroke="#000" stroke-width="0.7"/>
<line x1="391.50" x2="393.3" y1="141.42" y2="141.42" stroke="#000" stroke-width="0.7"/>
<line x1="391.50" x2="393.3" y1="153.38" y2="153.38" stroke="#000" stroke-width="0.7"/>
<line x1="406.50" x2="406.50" y1="159.6" y2="162.80" stroke="#333" stroke-width="0.9"/>
<text x="406.50" y="171.80" font-size="10.50" text-anchor="middle" textLength="13.44" lengthAdjust="spacingAndGlyphs" fill="#000" stroke="#000" stroke-width="0.25">60</text>
<line x1="492.60" x2="492.60" y1="159.6" y2="162.80" stroke="#333" stroke-width="0.9"/>
<text x="492.60" y="171.80" font-size="10.50" text-anchor="middle" textLength="13.44" lengthAdjust="spacingAndGlyphs" fill="#000" stroke="#000" stroke-width="0.25">70</text>
<line x1="579.00" x2="579.00" y1="159.6" y2="162.80" stroke="#333" stroke-width="0.9"/>
<text x="579.00" y="171.80" font-size="10.50" text-anchor="middle" textLength="13.44" lengthAdjust="spacingAndGlyphs" fill="#000" stroke="#000" stroke-width="0.25">80</text>
<line x1="665.40" x2="665.40" y1="159.6" y2="162.80" stroke="#333" stroke-width="0.9"/>
<text x="665.40" y="171.80" font-size="10.50" text-anchor="middle" textLength="13.44" lengthAdjust="spacingAndGlyphs" fill="#000" stroke="#000" stroke-width="0.25">90</text>
<line x1="423.76" x2="423.76" y1="159.6" y2="161.40" stroke="#333" stroke-width="0.7"/>
<line x1="441.02" x2="441.02" y1="159.6" y2="161.40" stroke="#333" stroke-width="0.7"/>
<line x1="458.28" x2="458.28" y1="159.6" y2="161.40" stroke="#333" stroke-width="0.7"/>
<line x1="475.54" x2="475.54" y1="159.6" y2="161.40" stroke="#333" stroke-width="0.7"/>
<line x1="510.06" x2="510.06" y1="159.6" y2="161.40" stroke="#333" stroke-width="0.7"/>
<line x1="527.32" x2="527.32" y1="159.6" y2="161.40" stroke="#333" stroke-width="0.7"/>
<line x1="544.58" x2="544.58" y1="159.6" y2="161.40" stroke="#333" stroke-width="0.7"/>
<line x1="561.84" x2="561.84" y1="159.6" y2="161.40" stroke="#333" stroke-width="0.7"/>
<line x1="596.36" x2="596.36" y1="159.6" y2="161.40" stroke="#333" stroke-width="0.7"/>
<line x1="613.62" x2="613.62" y1="159.6" y2="161.40" stroke="#333" stroke-width="0.7"/>
<line x1="630.88" x2="630.88" y1="159.6" y2="161.40" stroke="#333" stroke-width="0.7"/>
<line x1="648.14" x2="648.14" y1="159.6" y2="161.40" stroke="#333" stroke-width="0.7"/>
<rect x="393.3" y="1.45" width="284.90000000000003" height="158.15" fill="none" stroke="#000" stroke-width="1.55"/>
<text x="535.75" y="185.70" font-size="13.00" text-anchor="middle" textLength="119.99" lengthAdjust="spacingAndGlyphs" fill="#000" stroke="#000" stroke-width="0.25">Training Data (%)</text>
<text x="367.40" y="81.10" font-size="13.00" text-anchor="middle" textLength="30.05" lengthAdjust="spacingAndGlyphs" fill="#000" stroke="#000" stroke-width="0.25" transform="rotate(-90 367.40 81.10)">MCC</text>
<rect x="387.2" y="191.5" width="297.00000000000006" height="58.80000000000001" rx="2" fill="#fff" stroke="#888" stroke-width="1"/>
<line x1="391.40" x2="410.10" y1="198.70" y2="198.70" stroke="#6b6836" stroke-width="1.80" stroke-dasharray="6.36,2.75"/>
<polygon points="400.70,195.03 402.64,198.70 400.70,202.37 398.76,198.70" fill="#6b6836" stroke="#6b6836" stroke-width="0.8" stroke-linejoin="miter" stroke-miterlimit="4"/>
<text x="418.20" y="201.60" font-size="9.90" text-anchor="start" textLength="46.33" lengthAdjust="spacingAndGlyphs" fill="#000" stroke="#000" stroke-width="0.25">XGBoost</text>
<line x1="391.40" x2="410.10" y1="212.60" y2="212.60" stroke="#08f8c6" stroke-width="1.75" stroke-linecap="square"/>
<rect x="398.00" y="209.90" width="5.40" height="5.40" fill="#08f8c6" stroke="#08f8c6" stroke-width="0.8"/>
<text x="418.20" y="215.50" font-size="9.90" text-anchor="start" textLength="56.52" lengthAdjust="spacingAndGlyphs" fill="#000" stroke="#000" stroke-width="0.25">LSTM-CNN</text>
<line x1="391.40" x2="410.10" y1="226.80" y2="226.80" stroke="#0000cc" stroke-width="1.80" stroke-dasharray="5.16,8.60,1.72,8.60"/>
<polygon points="403.40,226.80 398.00,224.10 398.00,229.50" fill="#0000cc" stroke="#0000cc" stroke-width="0.8" stroke-linejoin="miter" stroke-miterlimit="4"/>
<text x="418.20" y="229.70" font-size="9.90" text-anchor="start" textLength="41.98" lengthAdjust="spacingAndGlyphs" fill="#000" stroke="#000" stroke-width="0.25">LinkNet</text>
<line x1="391.40" x2="410.10" y1="240.70" y2="240.70" stroke="#0e7f2e" stroke-width="1.90" stroke-dasharray="8.60,17.20"/>
<polygon points="400.70,243.40 398.00,238.00 403.40,238.00" fill="#0e7f2e" stroke="#0e7f2e" stroke-width="0.8" stroke-linejoin="miter" stroke-miterlimit="4"/>
<text x="418.20" y="243.60" font-size="9.90" text-anchor="start" textLength="51.01" lengthAdjust="spacingAndGlyphs" fill="#000" stroke="#000" stroke-width="0.25">GhostNet</text>
<line x1="493.00" x2="511.70" y1="198.70" y2="198.70" stroke="#ff0a6a" stroke-width="1.70" stroke-linecap="square"/>
<polygon points="499.60,198.70 505.00,196.00 505.00,201.40" fill="#ff0a6a" stroke="#ff0a6a" stroke-width="0.8" stroke-linejoin="miter" stroke-miterlimit="4"/>
<text x="519.70" y="201.60" font-size="9.90" text-anchor="start" textLength="57.17" lengthAdjust="spacingAndGlyphs" fill="#000" stroke="#000" stroke-width="0.25">GoogleNet</text>
<line x1="493.00" x2="511.70" y1="212.60" y2="212.60" stroke="#6b4a0f" stroke-width="1.80" stroke-dasharray="6.36,2.75"/>
<polygon points="502.30,209.76 504.76,211.18 504.76,214.02 502.30,215.44 499.84,214.02 499.84,211.18" fill="#6b4a0f" stroke="#6b4a0f" stroke-width="0.8" stroke-linejoin="miter" stroke-miterlimit="4"/>
<text x="519.70" y="215.50" font-size="9.90" text-anchor="start" textLength="42.77" lengthAdjust="spacingAndGlyphs" fill="#000" stroke="#000" stroke-width="0.25">AlexNet</text>
<line x1="493.00" x2="511.70" y1="226.80" y2="226.80" stroke="#560f7b" stroke-width="1.80" stroke-dasharray="11.01,2.75,1.72,2.75"/>
<polygon points="502.30,223.78 503.05,225.77 505.18,225.87 503.51,227.19 504.08,229.25 502.30,228.07 500.52,229.25 501.09,227.19 499.42,225.87 501.55,225.77" fill="#560f7b" stroke="#560f7b" stroke-width="0.8" stroke-linejoin="miter" stroke-miterlimit="4"/>
<text x="519.70" y="229.70" font-size="9.90" text-anchor="start" textLength="63.64" lengthAdjust="spacingAndGlyphs" fill="#000" stroke="#000" stroke-width="0.25">EfficientNet</text>
<line x1="602.50" x2="621.20" y1="198.70" y2="198.70" stroke="#0b6a6a" stroke-width="1.90" stroke-dasharray="1.72,2.84"/>
<polygon points="611.80,196.00 609.10,201.40 614.50,201.40" fill="#0b6a6a" stroke="#0b6a6a" stroke-width="0.8" stroke-linejoin="miter" stroke-miterlimit="4"/>
<text x="629.00" y="201.60" font-size="9.90" text-anchor="start" textLength="23.23" lengthAdjust="spacingAndGlyphs" fill="#000" stroke="#000" stroke-width="0.25">CNN</text>
<line x1="602.50" x2="621.20" y1="212.60" y2="212.60" stroke="#cccc00" stroke-width="1.75" stroke-linecap="square"/>
<polygon points="611.80,209.68 614.57,211.70 613.51,214.96 610.09,214.96 609.03,211.70" fill="#cccc00" stroke="#cccc00" stroke-width="0.8" stroke-linejoin="miter" stroke-miterlimit="4"/>
<text x="629.00" y="215.50" font-size="9.90" text-anchor="start" textLength="52.57" lengthAdjust="spacingAndGlyphs" fill="#000" stroke="#000" stroke-width="0.25">Ensemble</text>
<line x1="602.50" x2="621.20" y1="226.80" y2="226.80" stroke="#e60000" stroke-width="2.05" stroke-dasharray="6.36,2.75"/>
<polygon points="614.39,227.87 612.87,229.39 610.73,229.39 609.21,227.87 609.21,225.73 610.73,224.21 612.87,224.21 614.39,225.73" fill="#e60000" stroke="#e60000" stroke-width="0.8" stroke-linejoin="miter" stroke-miterlimit="4"/>
<text x="629.00" y="229.70" font-size="9.90" text-anchor="start" textLength="48.97" lengthAdjust="spacingAndGlyphs" fill="#000" stroke="#000" stroke-width="0.25">ILN-GNet</text>
<rect x="205.7" y="289.95" width="312.05" height="173.65000000000003" fill="#fff"/>
<line x1="205.7" x2="517.75" y1="313.70" y2="313.70" stroke="#cae4ca" stroke-width="0.75" stroke-dasharray="3.2,0.5"/>
<line x1="205.7" x2="517.75" y1="307.40" y2="307.40" stroke="#cae4ca" stroke-width="0.75" stroke-dasharray="3.2,0.5"/>
<line x1="205.7" x2="517.75" y1="301.10" y2="301.10" stroke="#cae4ca" stroke-width="0.75" stroke-dasharray="3.2,0.5"/>
<line x1="205.7" x2="517.75" y1="294.80" y2="294.80" stroke="#cae4ca" stroke-width="0.75" stroke-dasharray="3.2,0.5"/>
<line x1="205.7" x2="517.75" y1="326.30" y2="326.30" stroke="#cae4ca" stroke-width="0.75" stroke-dasharray="3.2,0.5"/>
<line x1="205.7" x2="517.75" y1="332.60" y2="332.60" stroke="#cae4ca" stroke-width="0.75" stroke-dasharray="3.2,0.5"/>
<line x1="205.7" x2="517.75" y1="338.90" y2="338.90" stroke="#cae4ca" stroke-width="0.75" stroke-dasharray="3.2,0.5"/>
<line x1="205.7" x2="517.75" y1="345.20" y2="345.20" stroke="#cae4ca" stroke-width="0.75" stroke-dasharray="3.2,0.5"/>
<line x1="205.7" x2="517.75" y1="357.86" y2="357.86" stroke="#cae4ca" stroke-width="0.75" stroke-dasharray="3.2,0.5"/>
<line x1="205.7" x2="517.75" y1="364.22" y2="364.22" stroke="#cae4ca" stroke-width="0.75" stroke-dasharray="3.2,0.5"/>
<line x1="205.7" x2="517.75" y1="370.58" y2="370.58" stroke="#cae4ca" stroke-width="0.75" stroke-dasharray="3.2,0.5"/>
<line x1="205.7" x2="517.75" y1="376.94" y2="376.94" stroke="#cae4ca" stroke-width="0.75" stroke-dasharray="3.2,0.5"/>
<line x1="205.7" x2="517.75" y1="389.54" y2="389.54" stroke="#cae4ca" stroke-width="0.75" stroke-dasharray="3.2,0.5"/>
<line x1="205.7" x2="517.75" y1="395.78" y2="395.78" stroke="#cae4ca" stroke-width="0.75" stroke-dasharray="3.2,0.5"/>
<line x1="205.7" x2="517.75" y1="402.02" y2="402.02" stroke="#cae4ca" stroke-width="0.75" stroke-dasharray="3.2,0.5"/>
<line x1="205.7" x2="517.75" y1="408.26" y2="408.26" stroke="#cae4ca" stroke-width="0.75" stroke-dasharray="3.2,0.5"/>
<line x1="205.7" x2="517.75" y1="420.90" y2="420.90" stroke="#cae4ca" stroke-width="0.75" stroke-dasharray="3.2,0.5"/>
<line x1="205.7" x2="517.75" y1="427.30" y2="427.30" stroke="#cae4ca" stroke-width="0.75" stroke-dasharray="3.2,0.5"/>
<line x1="205.7" x2="517.75" y1="433.70" y2="433.70" stroke="#cae4ca" stroke-width="0.75" stroke-dasharray="3.2,0.5"/>
<line x1="205.7" x2="517.75" y1="440.10" y2="440.10" stroke="#cae4ca" stroke-width="0.75" stroke-dasharray="3.2,0.5"/>
<line x1="205.7" x2="517.75" y1="452.90" y2="452.90" stroke="#cae4ca" stroke-width="0.75" stroke-dasharray="3.2,0.5"/>
<line x1="205.7" x2="517.75" y1="459.30" y2="459.30" stroke="#cae4ca" stroke-width="0.75" stroke-dasharray="3.2,0.5"/>
<line x1="238.91" x2="238.91" y1="289.95" y2="463.6" stroke="#cae4ca" stroke-width="1.1" stroke-dasharray="3.2,0.5"/>
<line x1="257.83" x2="257.83" y1="289.95" y2="463.6" stroke="#cae4ca" stroke-width="1.1" stroke-dasharray="3.2,0.5"/>
<line x1="276.74" x2="276.74" y1="289.95" y2="463.6" stroke="#cae4ca" stroke-width="1.1" stroke-dasharray="3.2,0.5"/>
<line x1="295.65" x2="295.65" y1="289.95" y2="463.6" stroke="#cae4ca" stroke-width="1.1" stroke-dasharray="3.2,0.5"/>
<line x1="333.48" x2="333.48" y1="289.95" y2="463.6" stroke="#cae4ca" stroke-width="1.1" stroke-dasharray="3.2,0.5"/>
<line x1="352.39" x2="352.39" y1="289.95" y2="463.6" stroke="#cae4ca" stroke-width="1.1" stroke-dasharray="3.2,0.5"/>
<line x1="371.31" x2="371.31" y1="289.95" y2="463.6" stroke="#cae4ca" stroke-width="1.1" stroke-dasharray="3.2,0.5"/>
<line x1="390.22" x2="390.22" y1="289.95" y2="463.6" stroke="#cae4ca" stroke-width="1.1" stroke-dasharray="3.2,0.5"/>
<line x1="428.05" x2="428.05" y1="289.95" y2="463.6" stroke="#cae4ca" stroke-width="1.1" stroke-dasharray="3.2,0.5"/>
<line x1="446.96" x2="446.96" y1="289.95" y2="463.6" stroke="#cae4ca" stroke-width="1.1" stroke-dasharray="3.2,0.5"/>
<line x1="465.87" x2="465.87" y1="289.95" y2="463.6" stroke="#cae4ca" stroke-width="1.1" stroke-dasharray="3.2,0.5"/>
<line x1="484.79" x2="484.79" y1="289.95" y2="463.6" stroke="#cae4ca" stroke-width="1.1" stroke-dasharray="3.2,0.5"/>
<line x1="205.7" x2="517.75" y1="320.00" y2="320.00" stroke="#777" stroke-width="1.0"/>
<line x1="205.7" x2="517.75" y1="351.50" y2="351.50" stroke="#777" stroke-width="1.0"/>
<line x1="205.7" x2="517.75" y1="383.30" y2="383.30" stroke="#777" stroke-width="1.0"/>
<line x1="205.7" x2="517.75" y1="414.50" y2="414.50" stroke="#777" stroke-width="1.0"/>
<line x1="205.7" x2="517.75" y1="446.50" y2="446.50" stroke="#777" stroke-width="1.0"/>
<line x1="220.00" x2="220.00" y1="289.95" y2="463.6" stroke="#777" stroke-width="1.0"/>
<line x1="314.40" x2="314.40" y1="289.95" y2="463.6" stroke="#777" stroke-width="1.0"/>
<line x1="409.00" x2="409.00" y1="289.95" y2="463.6" stroke="#777" stroke-width="1.0"/>
<line x1="503.70" x2="503.70" y1="289.95" y2="463.6" stroke="#777" stroke-width="1.0"/>
<polyline points="220.00,416.60 314.57,392.56 409.13,389.59 503.70,369.16" fill="none" stroke="#6b6836" stroke-width="1.93" stroke-dasharray="6.88,2.98" stroke-linejoin="round"/>
<polygon points="220.00,412.65 222.09,416.60 220.00,420.54 217.91,416.60" fill="#6b6836" stroke="#6b6836" stroke-width="0.8" stroke-linejoin="miter" stroke-miterlimit="4"/>
<polygon points="314.57,388.62 316.65,392.56 314.57,396.51 312.48,392.56" fill="#6b6836" stroke="#6b6836" stroke-width="0.8" stroke-linejoin="miter" stroke-miterlimit="4"/>
<polygon points="409.13,385.65 411.22,389.59 409.13,393.53 407.05,389.59" fill="#6b6836" stroke="#6b6836" stroke-width="0.8" stroke-linejoin="miter" stroke-miterlimit="4"/>
<polygon points="503.70,365.22 505.79,369.16 503.70,373.10 501.61,369.16" fill="#6b6836" stroke="#6b6836" stroke-width="0.8" stroke-linejoin="miter" stroke-miterlimit="4"/>
<polyline points="220.00,359.04 314.57,365.37 409.13,335.64 503.70,309.71" fill="none" stroke="#08f8c6" stroke-width="1.87" stroke-linejoin="round"/>
<rect x="217.10" y="356.14" width="5.80" height="5.80" fill="#08f8c6" stroke="#08f8c6" stroke-width="0.8"/>
<rect x="311.67" y="362.47" width="5.80" height="5.80" fill="#08f8c6" stroke="#08f8c6" stroke-width="0.8"/>
<rect x="406.23" y="332.74" width="5.80" height="5.80" fill="#08f8c6" stroke="#08f8c6" stroke-width="0.8"/>
<rect x="500.80" y="306.81" width="5.80" height="5.80" fill="#08f8c6" stroke="#08f8c6" stroke-width="0.8"/>
<polyline points="220.00,354.61 314.57,361.57 409.13,330.89 503.70,308.44" fill="none" stroke="#0000cc" stroke-width="1.93" stroke-dasharray="5.58,9.30,1.86,9.30" stroke-linejoin="round"/>
<polygon points="222.90,354.61 217.10,351.71 217.10,357.51" fill="#0000cc" stroke="#0000cc" stroke-width="0.8" stroke-linejoin="miter" stroke-miterlimit="4"/>
<polygon points="317.47,361.57 311.67,358.67 311.67,364.47" fill="#0000cc" stroke="#0000cc" stroke-width="0.8" stroke-linejoin="miter" stroke-miterlimit="4"/>
<polygon points="412.03,330.89 406.23,327.99 406.23,333.79" fill="#0000cc" stroke="#0000cc" stroke-width="0.8" stroke-linejoin="miter" stroke-miterlimit="4"/>
<polygon points="506.60,308.44 500.80,305.54 500.80,311.34" fill="#0000cc" stroke="#0000cc" stroke-width="0.8" stroke-linejoin="miter" stroke-miterlimit="4"/>
<polyline points="220.00,413.62 314.57,385.67 409.13,384.97 503.70,366.76" fill="none" stroke="#0e7f2e" stroke-width="2.03" stroke-dasharray="9.30,18.60" stroke-linejoin="round"/>
<polygon points="220.00,416.52 217.10,410.72 222.90,410.72" fill="#0e7f2e" stroke="#0e7f2e" stroke-width="0.8" stroke-linejoin="miter" stroke-miterlimit="4"/>
<polygon points="314.57,388.57 311.67,382.77 317.47,382.77" fill="#0e7f2e" stroke="#0e7f2e" stroke-width="0.8" stroke-linejoin="miter" stroke-miterlimit="4"/>
<polygon points="409.13,387.87 406.23,382.07 412.03,382.07" fill="#0e7f2e" stroke="#0e7f2e" stroke-width="0.8" stroke-linejoin="miter" stroke-miterlimit="4"/>
<polygon points="503.70,369.66 500.80,363.86 506.60,363.86" fill="#0e7f2e" stroke="#0e7f2e" stroke-width="0.8" stroke-linejoin="miter" stroke-miterlimit="4"/>
<polyline points="220.00,379.09 314.57,392.31 409.13,359.42 503.70,354.61" fill="none" stroke="#ff0a6a" stroke-width="1.82" stroke-linejoin="round"/>
<polygon points="217.10,379.09 222.90,376.19 222.90,381.99" fill="#ff0a6a" stroke="#ff0a6a" stroke-width="0.8" stroke-linejoin="miter" stroke-miterlimit="4"/>
<polygon points="311.67,392.31 317.47,389.41 317.47,395.21" fill="#ff0a6a" stroke="#ff0a6a" stroke-width="0.8" stroke-linejoin="miter" stroke-miterlimit="4"/>
<polygon points="406.23,359.42 412.03,356.52 412.03,362.32" fill="#ff0a6a" stroke="#ff0a6a" stroke-width="0.8" stroke-linejoin="miter" stroke-miterlimit="4"/>
<polygon points="500.80,354.61 506.60,351.71 506.60,357.51" fill="#ff0a6a" stroke="#ff0a6a" stroke-width="0.8" stroke-linejoin="miter" stroke-miterlimit="4"/>
<polyline points="220.00,374.41 314.57,379.28 409.13,352.40 503.70,327.79" fill="none" stroke="#6b4a0f" stroke-width="1.93" stroke-dasharray="6.88,2.98" stroke-linejoin="round"/>
<polygon points="220.00,371.36 222.64,372.89 222.64,375.93 220.00,377.45 217.36,375.93 217.36,372.89" fill="#6b4a0f" stroke="#6b4a0f" stroke-width="0.8" stroke-linejoin="miter" stroke-miterlimit="4"/>
<polygon points="314.57,376.24 317.20,377.76 317.20,380.80 314.57,382.33 311.93,380.80 311.93,377.76" fill="#6b4a0f" stroke="#6b4a0f" stroke-width="0.8" stroke-linejoin="miter" stroke-miterlimit="4"/>
<polygon points="409.13,349.35 411.77,350.88 411.77,353.92 409.13,355.44 406.50,353.92 406.50,350.88" fill="#6b4a0f" stroke="#6b4a0f" stroke-width="0.8" stroke-linejoin="miter" stroke-miterlimit="4"/>
<polygon points="503.70,324.75 506.34,326.27 506.34,329.32 503.70,330.84 501.06,329.32 501.06,326.27" fill="#6b4a0f" stroke="#6b4a0f" stroke-width="0.8" stroke-linejoin="miter" stroke-miterlimit="4"/>
<polyline points="220.00,456.00 314.57,446.14 409.13,419.51 503.70,422.23" fill="none" stroke="#560f7b" stroke-width="1.93" stroke-dasharray="11.90,2.98,1.86,2.98" stroke-linejoin="round"/>
<polygon points="220.00,452.75 220.80,454.90 223.09,455.00 221.30,456.42 221.91,458.63 220.00,457.37 218.09,458.63 218.70,456.42 216.91,455.00 219.20,454.90" fill="#560f7b" stroke="#560f7b" stroke-width="0.8" stroke-linejoin="miter" stroke-miterlimit="4"/>
<polygon points="314.57,442.89 315.37,445.03 317.66,445.13 315.86,446.56 316.48,448.76 314.57,447.50 312.66,448.76 313.27,446.56 311.48,445.13 313.77,445.03" fill="#560f7b" stroke="#560f7b" stroke-width="0.8" stroke-linejoin="miter" stroke-miterlimit="4"/>
<polygon points="409.13,416.26 409.93,418.40 412.22,418.50 410.43,419.93 411.04,422.13 409.13,420.87 407.22,422.13 407.84,419.93 406.04,418.50 408.33,418.40" fill="#560f7b" stroke="#560f7b" stroke-width="0.8" stroke-linejoin="miter" stroke-miterlimit="4"/>
<polygon points="503.70,418.98 504.50,421.12 506.79,421.22 505.00,422.65 505.61,424.85 503.70,423.59 501.79,424.85 502.40,422.65 500.61,421.22 502.90,421.12" fill="#560f7b" stroke="#560f7b" stroke-width="0.8" stroke-linejoin="miter" stroke-miterlimit="4"/>
<polyline points="220.00,410.59 314.57,384.34 409.13,371.18 503.70,366.12" fill="none" stroke="#0b6a6a" stroke-width="2.03" stroke-dasharray="1.86,3.07" stroke-linejoin="round"/>
<polygon points="220.00,407.69 217.10,413.49 222.90,413.49" fill="#0b6a6a" stroke="#0b6a6a" stroke-width="0.8" stroke-linejoin="miter" stroke-miterlimit="4"/>
<polygon points="314.57,381.44 311.67,387.24 317.47,387.24" fill="#0b6a6a" stroke="#0b6a6a" stroke-width="0.8" stroke-linejoin="miter" stroke-miterlimit="4"/>
<polygon points="409.13,368.28 406.23,374.08 412.03,374.08" fill="#0b6a6a" stroke="#0b6a6a" stroke-width="0.8" stroke-linejoin="miter" stroke-miterlimit="4"/>
<polygon points="503.70,363.22 500.80,369.02 506.60,369.02" fill="#0b6a6a" stroke="#0b6a6a" stroke-width="0.8" stroke-linejoin="miter" stroke-miterlimit="4"/>
<polyline points="220.00,430.51 314.57,415.96 409.13,396.10 503.70,370.30" fill="none" stroke="#cccc00" stroke-width="1.87" stroke-linejoin="round"/>
<polygon points="220.00,427.38 222.98,429.54 221.84,433.05 218.16,433.05 217.02,429.54" fill="#cccc00" stroke="#cccc00" stroke-width="0.8" stroke-linejoin="miter" stroke-miterlimit="4"/>
<polygon points="314.57,412.83 317.55,415.00 316.41,418.50 312.73,418.50 311.59,415.00" fill="#cccc00" stroke="#cccc00" stroke-width="0.8" stroke-linejoin="miter" stroke-miterlimit="4"/>
<polygon points="409.13,392.97 412.11,395.14 410.97,398.64 407.29,398.64 406.15,395.14" fill="#cccc00" stroke="#cccc00" stroke-width="0.8" stroke-linejoin="miter" stroke-miterlimit="4"/>
<polygon points="503.70,367.17 506.68,369.33 505.54,372.83 501.86,372.83 500.72,369.33" fill="#cccc00" stroke="#cccc00" stroke-width="0.8" stroke-linejoin="miter" stroke-miterlimit="4"/>
<polyline points="220.00,338.80 314.57,331.53 409.13,312.17 503.70,297.81" fill="none" stroke="#e60000" stroke-width="2.19" stroke-dasharray="6.88,2.98" stroke-linejoin="round"/>
<polygon points="222.79,339.95 221.15,341.59 218.85,341.59 217.21,339.95 217.21,337.65 218.85,336.01 221.15,336.01 222.79,337.65" fill="#e60000" stroke="#e60000" stroke-width="0.8" stroke-linejoin="miter" stroke-miterlimit="4"/>
<polygon points="317.35,332.68 315.72,334.31 313.41,334.31 311.78,332.68 311.78,330.37 313.41,328.74 315.72,328.74 317.35,330.37" fill="#e60000" stroke="#e60000" stroke-width="0.8" stroke-linejoin="miter" stroke-miterlimit="4"/>
<polygon points="411.92,313.33 410.29,314.96 407.98,314.96 406.35,313.33 406.35,311.02 407.98,309.39 410.29,309.39 411.92,311.02" fill="#e60000" stroke="#e60000" stroke-width="0.8" stroke-linejoin="miter" stroke-miterlimit="4"/>
<polygon points="506.49,298.97 504.85,300.60 502.55,300.60 500.91,298.97 500.91,296.66 502.55,295.03 504.85,295.03 506.49,296.66" fill="#e60000" stroke="#e60000" stroke-width="0.8" stroke-linejoin="miter" stroke-miterlimit="4"/>
<line x1="202.28" x2="205.7" y1="320.00" y2="320.00" stroke="#000" stroke-width="0.9"/>
<text x="200.40" y="324.20" font-size="10.85" text-anchor="end" textLength="25.66" lengthAdjust="spacingAndGlyphs" fill="#000" stroke="#000" stroke-width="0.25">0.95</text>
<line x1="202.28" x2="205.7" y1="351.50" y2="351.50" stroke="#000" stroke-width="0.9"/>
<text x="200.40" y="355.70" font-size="10.85" text-anchor="end" textLength="25.66" lengthAdjust="spacingAndGlyphs" fill="#000" stroke="#000" stroke-width="0.25">0.90</text>
<line x1="202.28" x2="205.7" y1="383.30" y2="383.30" stroke="#000" stroke-width="0.9"/>
<text x="200.40" y="387.50" font-size="10.85" text-anchor="end" textLength="25.66" lengthAdjust="spacingAndGlyphs" fill="#000" stroke="#000" stroke-width="0.25">0.85</text>
<line x1="202.28" x2="205.7" y1="414.50" y2="414.50" stroke="#000" stroke-width="0.9"/>
<text x="200.40" y="418.70" font-size="10.85" text-anchor="end" textLength="25.66" lengthAdjust="spacingAndGlyphs" fill="#000" stroke="#000" stroke-width="0.25">0.80</text>
<line x1="202.28" x2="205.7" y1="446.50" y2="446.50" stroke="#000" stroke-width="0.9"/>
<text x="200.40" y="450.70" font-size="10.85" text-anchor="end" textLength="25.66" lengthAdjust="spacingAndGlyphs" fill="#000" stroke="#000" stroke-width="0.25">0.75</text>
<line x1="203.77" x2="205.7" y1="313.70" y2="313.70" stroke="#000" stroke-width="0.7"/>
<line x1="203.77" x2="205.7" y1="307.40" y2="307.40" stroke="#000" stroke-width="0.7"/>
<line x1="203.77" x2="205.7" y1="301.10" y2="301.10" stroke="#000" stroke-width="0.7"/>
<line x1="203.77" x2="205.7" y1="294.80" y2="294.80" stroke="#000" stroke-width="0.7"/>
<line x1="203.77" x2="205.7" y1="326.30" y2="326.30" stroke="#000" stroke-width="0.7"/>
<line x1="203.77" x2="205.7" y1="332.60" y2="332.60" stroke="#000" stroke-width="0.7"/>
<line x1="203.77" x2="205.7" y1="338.90" y2="338.90" stroke="#000" stroke-width="0.7"/>
<line x1="203.77" x2="205.7" y1="345.20" y2="345.20" stroke="#000" stroke-width="0.7"/>
<line x1="203.77" x2="205.7" y1="357.86" y2="357.86" stroke="#000" stroke-width="0.7"/>
<line x1="203.77" x2="205.7" y1="364.22" y2="364.22" stroke="#000" stroke-width="0.7"/>
<line x1="203.77" x2="205.7" y1="370.58" y2="370.58" stroke="#000" stroke-width="0.7"/>
<line x1="203.77" x2="205.7" y1="376.94" y2="376.94" stroke="#000" stroke-width="0.7"/>
<line x1="203.77" x2="205.7" y1="389.54" y2="389.54" stroke="#000" stroke-width="0.7"/>
<line x1="203.77" x2="205.7" y1="395.78" y2="395.78" stroke="#000" stroke-width="0.7"/>
<line x1="203.77" x2="205.7" y1="402.02" y2="402.02" stroke="#000" stroke-width="0.7"/>
<line x1="203.77" x2="205.7" y1="408.26" y2="408.26" stroke="#000" stroke-width="0.7"/>
<line x1="203.77" x2="205.7" y1="420.90" y2="420.90" stroke="#000" stroke-width="0.7"/>
<line x1="203.77" x2="205.7" y1="427.30" y2="427.30" stroke="#000" stroke-width="0.7"/>
<line x1="203.77" x2="205.7" y1="433.70" y2="433.70" stroke="#000" stroke-width="0.7"/>
<line x1="203.77" x2="205.7" y1="440.10" y2="440.10" stroke="#000" stroke-width="0.7"/>
<line x1="203.77" x2="205.7" y1="452.90" y2="452.90" stroke="#000" stroke-width="0.7"/>
<line x1="203.77" x2="205.7" y1="459.30" y2="459.30" stroke="#000" stroke-width="0.7"/>
<line x1="220.00" x2="220.00" y1="463.6" y2="467.02" stroke="#333" stroke-width="0.9"/>
<text x="220.00" y="476.80" font-size="10.85" text-anchor="middle" textLength="14.48" lengthAdjust="spacingAndGlyphs" fill="#000" stroke="#000" stroke-width="0.25">60</text>
<line x1="314.40" x2="314.40" y1="463.6" y2="467.02" stroke="#333" stroke-width="0.9"/>
<text x="314.40" y="476.80" font-size="10.85" text-anchor="middle" textLength="14.48" lengthAdjust="spacingAndGlyphs" fill="#000" stroke="#000" stroke-width="0.25">70</text>
<line x1="409.00" x2="409.00" y1="463.6" y2="467.02" stroke="#333" stroke-width="0.9"/>
<text x="409.00" y="476.80" font-size="10.85" text-anchor="middle" textLength="14.48" lengthAdjust="spacingAndGlyphs" fill="#000" stroke="#000" stroke-width="0.25">80</text>
<line x1="503.70" x2="503.70" y1="463.6" y2="467.02" stroke="#333" stroke-width="0.9"/>
<text x="503.70" y="476.80" font-size="10.85" text-anchor="middle" textLength="14.48" lengthAdjust="spacingAndGlyphs" fill="#000" stroke="#000" stroke-width="0.25">90</text>
<line x1="238.91" x2="238.91" y1="463.6" y2="465.53" stroke="#333" stroke-width="0.7"/>
<line x1="257.83" x2="257.83" y1="463.6" y2="465.53" stroke="#333" stroke-width="0.7"/>
<line x1="276.74" x2="276.74" y1="463.6" y2="465.53" stroke="#333" stroke-width="0.7"/>
<line x1="295.65" x2="295.65" y1="463.6" y2="465.53" stroke="#333" stroke-width="0.7"/>
<line x1="333.48" x2="333.48" y1="463.6" y2="465.53" stroke="#333" stroke-width="0.7"/>
<line x1="352.39" x2="352.39" y1="463.6" y2="465.53" stroke="#333" stroke-width="0.7"/>
<line x1="371.31" x2="371.31" y1="463.6" y2="465.53" stroke="#333" stroke-width="0.7"/>
<line x1="390.22" x2="390.22" y1="463.6" y2="465.53" stroke="#333" stroke-width="0.7"/>
<line x1="428.05" x2="428.05" y1="463.6" y2="465.53" stroke="#333" stroke-width="0.7"/>
<line x1="446.96" x2="446.96" y1="463.6" y2="465.53" stroke="#333" stroke-width="0.7"/>
<line x1="465.87" x2="465.87" y1="463.6" y2="465.53" stroke="#333" stroke-width="0.7"/>
<line x1="484.79" x2="484.79" y1="463.6" y2="465.53" stroke="#333" stroke-width="0.7"/>
<rect x="205.7" y="289.95" width="312.05" height="173.65000000000003" fill="none" stroke="#000" stroke-width="1.70"/>
<text x="360.83" y="492.40" font-size="13.60" text-anchor="middle" textLength="128.84" lengthAdjust="spacingAndGlyphs" fill="#000" stroke="#000" stroke-width="0.25">Training Data (%)</text>
<text x="170.30" y="378.30" font-size="13.60" text-anchor="middle" textLength="30.71" lengthAdjust="spacingAndGlyphs" fill="#000" stroke="#000" stroke-width="0.25" transform="rotate(-90 170.30 378.30)">NPV</text>
<rect x="198.8" y="498.5" width="325.90000000000003" height="64.20000000000005" rx="2" fill="#fff" stroke="#888" stroke-width="1"/>
<line x1="203.67" x2="223.94" y1="506.20" y2="506.20" stroke="#6b6836" stroke-width="1.93" stroke-dasharray="6.88,2.98"/>
<polygon points="213.75,502.26 215.84,506.20 213.75,510.14 211.66,506.20" fill="#6b6836" stroke="#6b6836" stroke-width="0.8" stroke-linejoin="miter" stroke-miterlimit="4"/>
<text x="233.00" y="509.80" font-size="10.65" text-anchor="start" textLength="49.93" lengthAdjust="spacingAndGlyphs" fill="#000" stroke="#000" stroke-width="0.25">XGBoost</text>
<line x1="203.67" x2="223.94" y1="521.90" y2="521.90" stroke="#08f8c6" stroke-width="1.87" stroke-linecap="square"/>
<rect x="210.85" y="519.00" width="5.80" height="5.80" fill="#08f8c6" stroke="#08f8c6" stroke-width="0.8"/>
<text x="233.00" y="525.50" font-size="10.65" text-anchor="start" textLength="60.92" lengthAdjust="spacingAndGlyphs" fill="#000" stroke="#000" stroke-width="0.25">LSTM-CNN</text>
<line x1="203.67" x2="223.94" y1="537.40" y2="537.40" stroke="#0000cc" stroke-width="1.93" stroke-dasharray="5.58,9.30,1.86,9.30"/>
<polygon points="216.65,537.40 210.85,534.50 210.85,540.30" fill="#0000cc" stroke="#0000cc" stroke-width="0.8" stroke-linejoin="miter" stroke-miterlimit="4"/>
<text x="233.00" y="541.00" font-size="10.65" text-anchor="start" textLength="45.24" lengthAdjust="spacingAndGlyphs" fill="#000" stroke="#000" stroke-width="0.25">LinkNet</text>
<line x1="203.67" x2="223.94" y1="552.50" y2="552.50" stroke="#0e7f2e" stroke-width="2.03" stroke-dasharray="9.30,18.60"/>
<polygon points="213.75,555.40 210.85,549.60 216.65,549.60" fill="#0e7f2e" stroke="#0e7f2e" stroke-width="0.8" stroke-linejoin="miter" stroke-miterlimit="4"/>
<text x="233.00" y="556.10" font-size="10.65" text-anchor="start" textLength="54.97" lengthAdjust="spacingAndGlyphs" fill="#000" stroke="#000" stroke-width="0.25">GhostNet</text>
<line x1="314.27" x2="334.54" y1="506.20" y2="506.20" stroke="#ff0a6a" stroke-width="1.82" stroke-linecap="square"/>
<polygon points="321.45,506.20 327.25,503.30 327.25,509.10" fill="#ff0a6a" stroke="#ff0a6a" stroke-width="0.8" stroke-linejoin="miter" stroke-miterlimit="4"/>
<text x="344.10" y="509.80" font-size="10.65" text-anchor="start" textLength="61.62" lengthAdjust="spacingAndGlyphs" fill="#000" stroke="#000" stroke-width="0.25">GoogleNet</text>
<line x1="314.27" x2="334.54" y1="521.90" y2="521.90" stroke="#6b4a0f" stroke-width="1.93" stroke-dasharray="6.88,2.98"/>
<polygon points="324.35,518.86 326.99,520.38 326.99,523.42 324.35,524.94 321.71,523.42 321.71,520.38" fill="#6b4a0f" stroke="#6b4a0f" stroke-width="0.8" stroke-linejoin="miter" stroke-miterlimit="4"/>
<text x="344.10" y="525.50" font-size="10.65" text-anchor="start" textLength="46.10" lengthAdjust="spacingAndGlyphs" fill="#000" stroke="#000" stroke-width="0.25">AlexNet</text>
<line x1="314.27" x2="334.54" y1="537.40" y2="537.40" stroke="#560f7b" stroke-width="1.93" stroke-dasharray="11.90,2.98,1.86,2.98"/>
<polygon points="324.35,534.15 325.15,536.30 327.44,536.40 325.65,537.82 326.26,540.03 324.35,538.76 322.44,540.03 323.05,537.82 321.26,536.40 323.55,536.30" fill="#560f7b" stroke="#560f7b" stroke-width="0.8" stroke-linejoin="miter" stroke-miterlimit="4"/>
<text x="344.10" y="541.00" font-size="10.65" text-anchor="start" textLength="68.59" lengthAdjust="spacingAndGlyphs" fill="#000" stroke="#000" stroke-width="0.25">EfficientNet</text>
<line x1="434.77" x2="455.04" y1="506.20" y2="506.20" stroke="#0b6a6a" stroke-width="2.03" stroke-dasharray="1.86,3.07"/>
<polygon points="444.85,503.30 441.95,509.10 447.75,509.10" fill="#0b6a6a" stroke="#0b6a6a" stroke-width="0.8" stroke-linejoin="miter" stroke-miterlimit="4"/>
<text x="463.70" y="509.80" font-size="10.65" text-anchor="start" textLength="25.04" lengthAdjust="spacingAndGlyphs" fill="#000" stroke="#000" stroke-width="0.25">CNN</text>
<line x1="434.77" x2="455.04" y1="521.90" y2="521.90" stroke="#cccc00" stroke-width="1.87" stroke-linecap="square"/>
<polygon points="444.85,518.77 447.83,520.93 446.69,524.43 443.01,524.43 441.87,520.93" fill="#cccc00" stroke="#cccc00" stroke-width="0.8" stroke-linejoin="miter" stroke-miterlimit="4"/>
<text x="463.70" y="525.50" font-size="10.65" text-anchor="start" textLength="56.65" lengthAdjust="spacingAndGlyphs" fill="#000" stroke="#000" stroke-width="0.25">Ensemble</text>
<line x1="434.77" x2="455.04" y1="537.40" y2="537.40" stroke="#e60000" stroke-width="2.19" stroke-dasharray="6.88,2.98"/>
<polygon points="447.64,538.55 446.00,540.19 443.70,540.19 442.06,538.55 442.06,536.25 443.70,534.61 446.00,534.61 447.64,536.25" fill="#e60000" stroke="#e60000" stroke-width="0.8" stroke-linejoin="miter" stroke-miterlimit="4"/>
<text x="463.70" y="541.00" font-size="10.65" text-anchor="start" textLength="52.78" lengthAdjust="spacingAndGlyphs" fill="#000" stroke="#000" stroke-width="0.25">ILN-GNet</text>
<text x="159.60" y="279.00" style="font-family:'Liberation Serif',serif;font-weight:normal" font-size="19.5" textLength="19.70" lengthAdjust="spacingAndGlyphs" fill="#000">(a)</text>
<text x="513.00" y="279.10" style="font-family:'Liberation Serif',serif;font-weight:normal" font-size="19.5" textLength="20.70" lengthAdjust="spacingAndGlyphs" fill="#000">(b)</text>
<text x="333.90" y="590.00" style="font-family:'Liberation Serif',serif;font-weight:normal" font-size="19.5" textLength="19.30" lengthAdjust="spacingAndGlyphs" fill="#000">(c)</text>
</svg>
</body></html>
